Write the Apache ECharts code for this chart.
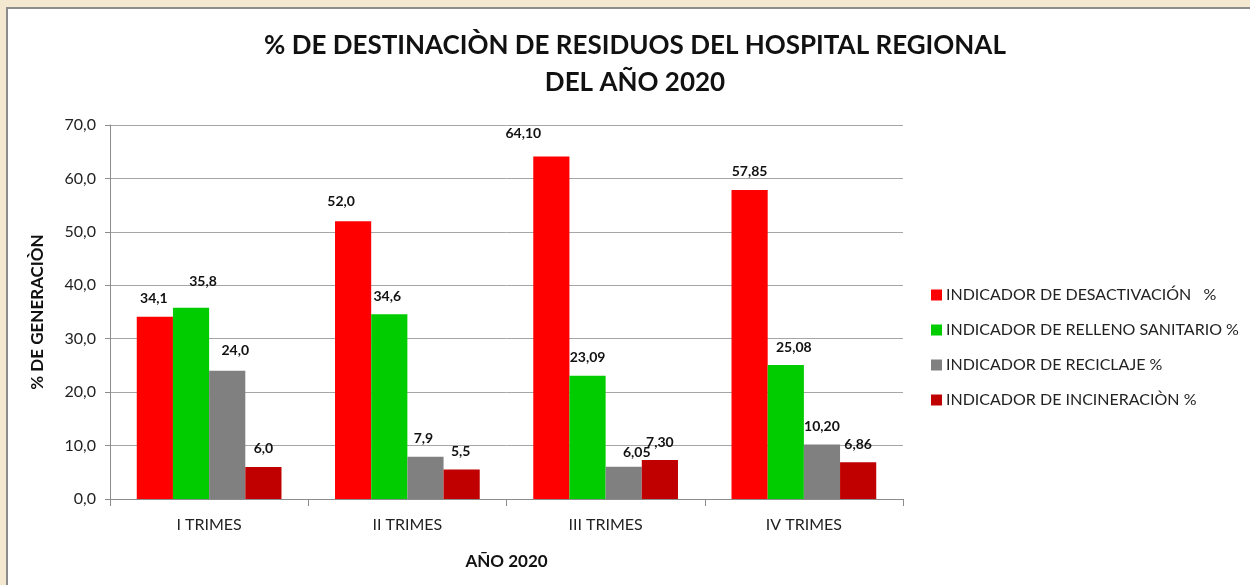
<!DOCTYPE html>
<html>
<head>
<meta charset="utf-8">
<script src="https://cdn.jsdelivr.net/npm/echarts@6/dist/echarts.min.js"></script>
<style>
  html, body { margin: 0; padding: 0; }
  body { width: 1250px; height: 585px; background: #f4e8d0; position: relative; overflow: hidden; }
  #frame { position: absolute; left: 6px; top: 7px; right: -4px; bottom: -4px; background: #fff;
           border-left: 2px solid #8c8c8c; border-top: 2px solid #8c8c8c; }
  #chart { position: absolute; left: 0; top: 0; width: 1250px; height: 585px; }
</style>
</head>
<body>
<div id="frame"></div>
<div id="chart"></div>
<script>
// ---- data ----
const categories = ['I TRIMES', 'II TRIMES', 'III TRIMES', 'IV TRIMES'];
const seriesNames = [
  'INDICADOR DE DESACTIVACIÓN   %',
  'INDICADOR DE RELLENO SANITARIO %',
  'INDICADOR DE RECICLAJE %',
  'INDICADOR DE INCINERACIÒN %'
];
const desactivacion = [34.1, 52.0, 64.10, 57.85];
const relleno       = [35.8, 34.6, 23.09, 25.08];
const reciclaje     = [24.0, 7.9, 6.05, 10.20];
const incineracion  = [6.0, 5.5, 7.30, 6.86];
const labelDecimals = [1, 1, 2, 2];   // decimals shown per quarter
const yTicks = { min: 0, max: 70, interval: 10 };

// ---- styling ----
const colors = ['#FF0000', '#00CC00', '#808080', '#C00000'];
// label nudges [dx, dy] per series per category (layout only)
const labelNudges = [
  [[-1, 0], [-12, -2], [-28, -5], [0, 0]],
  [[12, -8], [-2, 0], [0, 0], [8, 0]],
  [[8, -2], [-2, 0], [13, 4], [0, 0]],
  [[0, 0], [-1, 0], [0, 0], [0, 0]]
];
const font = 'Lato, "Open Sans", sans-serif';
const fmt = (v, d) => v.toFixed(d).replace('.', ',');

const allData = [desactivacion, relleno, reciclaje, incineracion];
const series = allData.map((arr, si) => ({
  name: seriesNames[si],
  type: 'bar',
  barGap: '0%',
  barCategoryGap: '27%',
  itemStyle: { color: colors[si] },
  data: arr.map((v, ci) => ({
    value: v,
    label: {
      offset: labelNudges[si][ci],
      formatter: fmt(v, labelDecimals[ci])
    }
  })),
  label: {
    show: true,
    position: 'top',
    distance: 11,
    color: '#111',
    fontWeight: 'bold',
    fontSize: 14,
    fontFamily: font
  }
}));

const chart = echarts.init(document.getElementById('chart'));
chart.setOption({
  animation: false,
  backgroundColor: 'transparent',
  textStyle: { fontFamily: font },
  title: {
    text: '% DE DESTINACIÒN DE RESIDUOS DEL HOSPITAL REGIONAL\nDEL AÑO 2020',
    left: 630,
    top: 22,
    textAlign: 'center',
    textStyle: { fontSize: 26, fontWeight: 'bold', color: '#111', lineHeight: 37, fontFamily: font }
  },
  legend: {
    orient: 'vertical',
    left: 926,
    top: 282,
    itemWidth: 11,
    itemHeight: 11,
    itemGap: 19,
    icon: 'rect',
    textStyle: { fontSize: 16, color: '#222', fontFamily: font, padding: [0, 0, 0, -1] },
    data: seriesNames
  },
  grid: { left: 110, right: 347, top: 125, bottom: 86, containLabel: false },
  xAxis: {
    type: 'category',
    data: categories,
    name: 'AÑO 2020',
    nameLocation: 'middle',
    nameGap: 54,
    nameTextStyle: { fontSize: 17, fontWeight: 'bold', color: '#111', fontFamily: font },
    axisLine: { lineStyle: { color: '#8c8c8c', width: 1 } },
    axisTick: { show: true, alignWithLabel: false, length: 7, lineStyle: { color: '#8c8c8c' } },
    axisLabel: { fontSize: 16, color: '#222', margin: 18, fontFamily: font }
  },
  yAxis: {
    type: 'value',
    min: yTicks.min,
    max: yTicks.max,
    interval: yTicks.interval,
    name: '% DE GENERACIÒN',
    nameLocation: 'middle',
    nameRotate: 90,
    nameGap: 64,
    nameTextStyle: { fontSize: 17, fontWeight: 'bold', color: '#111', fontFamily: font },
    axisLine: { show: true, lineStyle: { color: '#8c8c8c' } },
    axisTick: { show: true, length: 5, lineStyle: { color: '#8c8c8c' } },
    splitLine: { lineStyle: { color: '#a6a6a6', width: 1 } },
    axisLabel: { fontSize: 16, color: '#222', margin: 14, fontFamily: font,
                 formatter: v => fmt(v, 1) }
  },
  series: series
});
</script>
</body>
</html>
